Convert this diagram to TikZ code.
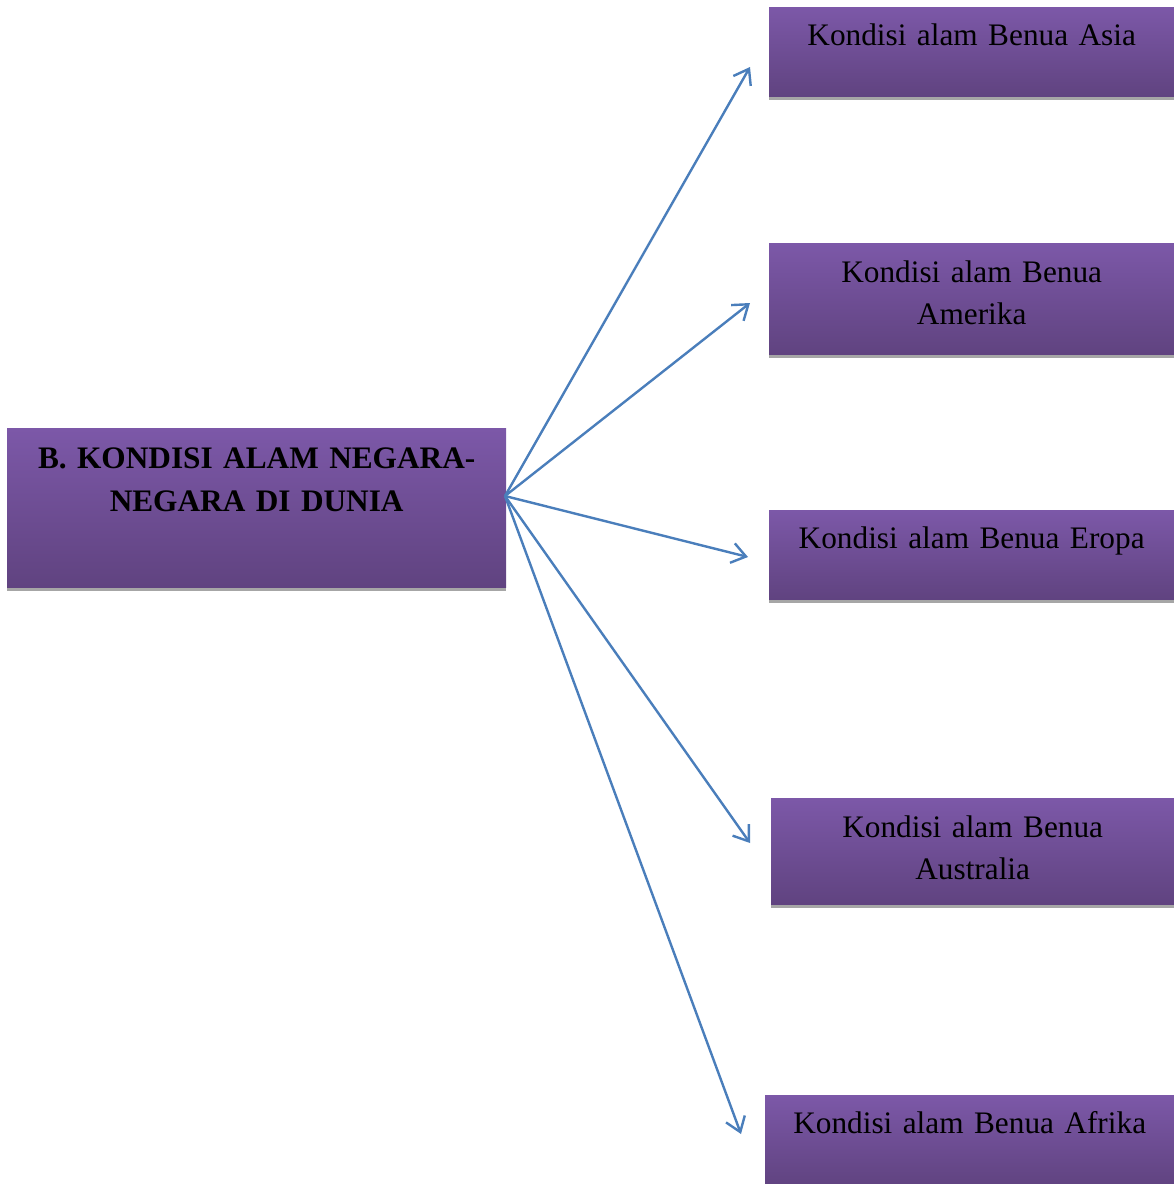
\documentclass[tikz,border=0pt]{standalone}
\usepackage{fontspec}
\setmainfont{Liberation Serif}
\usepackage{tikz}
\usetikzlibrary{arrows.meta, shadows}
\definecolor{kotaktop}{RGB}{124, 88, 168}
\definecolor{kotakbot}{RGB}{96, 67, 128}
\definecolor{bayangan}{RGB}{166, 166, 166}
\definecolor{panahblue}{RGB}{74, 126, 187}

\tikzset{
  kotak/.style={rectangle, anchor=north west, inner sep=0pt, align=center,
    top color=kotaktop, bottom color=kotakbot,
    drop shadow={shadow xshift=0pt, shadow yshift=-4pt, fill=bayangan, opacity=1},
    font=\fontsize{31.3}{42}\selectfont},
  benua/.style={kotak, minimum width=405pt, text width=385pt},
  panah/.style={-{Straight Barb[length=14pt, width=20pt]}, line width=2.4pt, panahblue}
}

\begin{document}
\begin{tikzpicture}[x=1pt, y=-1pt]
  \useasboundingbox (0,0) rectangle (1174,1184);

  % main box
  \node[kotak, minimum width=499pt, text width=470pt, text height=40pt, text depth=119pt,
    font=\fontsize{31.3}{43}\selectfont\bfseries] (judul) at (7,428)
    {B. KONDISI ALAM NEGARA-\\NEGARA DI DUNIA};

  % continents
  \node[benua, text height=38pt, text depth=51pt] (asia) at (769,7)
    {Kondisi alam Benua Asia};
  \node[benua, text height=39pt, text depth=72pt] (amerika) at (769,243)
    {Kondisi alam Benua\\Amerika};
  \node[benua, text height=38pt, text depth=51pt] (eropa) at (769,510)
    {Kondisi alam Benua Eropa};
  \node[benua, minimum width=403pt, text height=39pt, text depth=67pt] (australia) at (771,798)
    {Kondisi alam Benua\\Australia};
  \node[benua, minimum width=409pt, text height=38pt, text depth=53pt] (afrika) at (765,1095)
    {Kondisi alam Benua Afrika};

  % arrows
  \coordinate (hub) at (505,496);
  \coordinate (asia-tip) at (750,67);
  \coordinate (amerika-tip) at (750,303);
  \coordinate (eropa-tip) at (748,557);
  \coordinate (australia-tip) at (750,843);
  \coordinate (afrika-tip) at (741,1134);
  \foreach \b in {asia, amerika, eropa, australia, afrika}
    \draw[panah] (hub) -- (\b-tip);

\end{tikzpicture}
\end{document}
